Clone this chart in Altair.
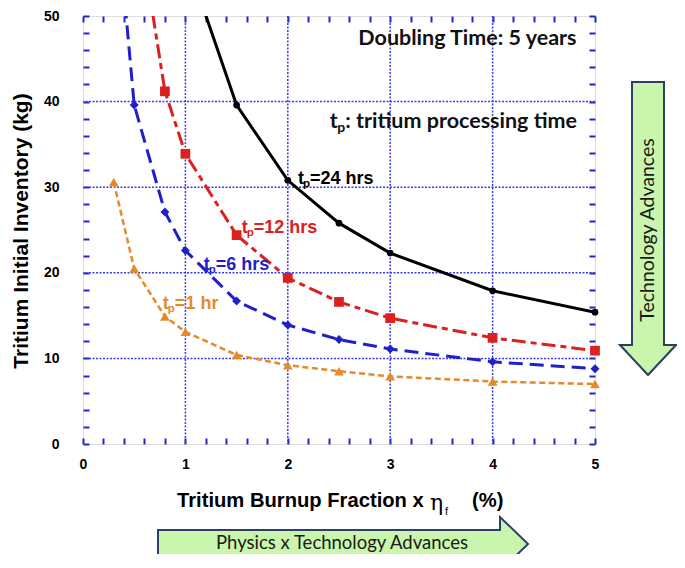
import altair as alt
import pandas as pd

# ---------------- data ----------------
x_1hr = [0.3, 0.5, 0.8, 1.0, 1.5, 2.0, 2.5, 3.0, 4.0, 5.0]
y_1hr = [30.6, 20.5, 14.9, 13.1, 10.4, 9.2, 8.5, 7.9, 7.3, 7.0]

x_6hr = [0.3, 0.5, 0.8, 1.0, 1.5, 2.0, 2.5, 3.0, 4.0, 5.0]
y_6hr = [66.0, 39.6, 27.1, 22.6, 16.7, 13.9, 12.2, 11.1, 9.6, 8.8]

x_12hr = [0.5, 0.8, 1.0, 1.5, 2.0, 2.5, 3.0, 4.0, 5.0]
y_12hr = [64.0, 41.2, 33.9, 24.4, 19.4, 16.6, 14.7, 12.4, 10.9]

x_24hr = [1.0, 1.5, 2.0, 2.5, 3.0, 4.0, 5.0]
y_24hr = [57.0, 39.6, 30.8, 25.8, 22.3, 17.9, 15.4]

grid_x = [1, 2, 3, 4]
grid_y = [10, 20, 30, 40]
x_tick_values = [i / 5 for i in range(26)]
y_tick_values = list(range(0, 52, 2))

label_x = [2.10, 1.55, 1.18, 0.78]
label_y = [30.9, 25.2, 20.9, 16.4]
label_rest = ["=24 hrs", "=12 hrs", "=6 hrs", "=1 hr"]

BLACK = "#000000"
RED = "#dc2020"
BLUE = "#1f1fcc"
ORANGE = "#e58a2b"
label_colors = [BLACK, RED, BLUE, ORANGE]

AXIS_BLUE = "#2323d6"
GRID_BLUE = "#3b3bee"
ARROW_FILL = "#c9f5ad"
ARROW_STROKE = "#2e3f66"

xs = alt.Scale(domain=[0, 5], nice=False, zero=False)
ys = alt.Scale(domain=[0, 50], nice=False, zero=False)

x_label_expr = "abs(datum.value - round(datum.value)) < 0.001 ? format(datum.value, 'd') : ''"
y_label_expr = "datum.value % 10 == 0 ? format(datum.value, 'd') : ''"

common_tick = dict(tickSize=6, tickWidth=2, tickColor=AXIS_BLUE, domain=False,
                   grid=False, title=None, offset=-6)

bottom_axis = alt.Axis(orient="bottom", values=x_tick_values, labelExpr=x_label_expr,
                       labelFont="Liberation Sans", labelFontSize=14, labelFontWeight="bold",
                       labelColor="#000000", labelPadding=13, labelFlush=False,
                       labelOverlap=False, **common_tick)
left_axis = alt.Axis(orient="left", values=y_tick_values, labelExpr=y_label_expr,
                     labelFont="Liberation Sans", labelFontSize=14, labelFontWeight="bold",
                     labelColor="#000000", labelPadding=24, labelFlush=False,
                     labelOverlap=False, **common_tick)
top_axis = alt.Axis(orient="top", values=x_tick_values, labels=False, **common_tick)
right_axis = alt.Axis(orient="right", values=y_tick_values, labels=False, **common_tick)

# ---------------- grid + mirrored axes ----------------
grid_v = alt.Chart(pd.DataFrame({"gx": grid_x})).mark_rule(
    color=GRID_BLUE, strokeDash=[2, 1.5], strokeWidth=1.5
).encode(x=alt.X("gx:Q", scale=xs, axis=top_axis))

grid_h = alt.Chart(pd.DataFrame({"gy": grid_y})).mark_rule(
    color=GRID_BLUE, strokeDash=[2, 1.5], strokeWidth=1.5
).encode(y=alt.Y("gy:Q", scale=ys, axis=right_axis))


def series(xv, yv, color, shape, size, width, dash=None, with_axes=False):
    df = pd.DataFrame({"x": xv, "y": yv})
    line_kw = dict(color=color, strokeWidth=width, clip=True)
    if dash is not None:
        line_kw["strokeDash"] = dash
    line = alt.Chart(df).mark_line(**line_kw).encode(
        x=alt.X("x:Q", scale=xs, axis=bottom_axis if with_axes else None),
        y=alt.Y("y:Q", scale=ys, axis=left_axis if with_axes else None),
    )
    pts = alt.Chart(df).transform_filter("datum.y <= 50").mark_point(
        shape=shape, size=size, filled=True, color=color, opacity=1
    ).encode(
        x=alt.X("x:Q", scale=xs, axis=None),
        y=alt.Y("y:Q", scale=ys, axis=None),
    )
    return [line, pts]


layers_series = []
layers_series += series(x_1hr, y_1hr, ORANGE, "triangle-up", 95, 2.5, dash=[6, 3.5])
layers_series += series(x_6hr, y_6hr, BLUE, "diamond", 80, 3, dash=[14, 7])
layers_series += series(x_12hr, y_12hr, RED, "square", 95, 3, dash=[14, 5, 6, 5])
layers_series += series(x_24hr, y_24hr, BLACK, "circle", 45, 3, with_axes=True)

# ---------------- curve labels (t with subscript p) ----------------
lbl_df = pd.DataFrame({"x": label_x, "y": label_y, "rest": label_rest,
                       "color": label_colors, "t": ["t"] * 4, "p": ["p"] * 4})
lbl_base = alt.Chart(lbl_df).encode(
    x=alt.X("x:Q", scale=xs, axis=None),
    y=alt.Y("y:Q", scale=ys, axis=None),
    color=alt.Color("color:N", scale=None),
)
lbl_t = lbl_base.mark_text(align="left", baseline="middle", font="Liberation Sans",
                           fontSize=18, fontWeight="bold").encode(text="t:N")
lbl_p = lbl_base.mark_text(align="left", baseline="middle", font="Liberation Sans",
                           fontSize=11.5, fontWeight="bold", dx=5, dy=5).encode(text="p:N")
lbl_r = lbl_base.mark_text(align="left", baseline="middle", font="Liberation Sans",
                           fontSize=18, fontWeight="bold", dx=12).encode(text="rest:N")

# ---------------- top right notes ----------------
note1 = alt.Chart(pd.DataFrame({"x": [4.82], "y": [47.3], "s": ["Doubling Time: 5 years"]})).mark_text(
    align="right", baseline="middle", font="Lato", fontSize=21.5, fontWeight="bold", color="#111111"
).encode(x=alt.X("x:Q", scale=xs, axis=None), y=alt.Y("y:Q", scale=ys, axis=None), text="s:N")

note2_df = pd.DataFrame({"x": [2.41], "y": [37.65], "t": ["t"], "p": ["p"],
                         "s": [": tritium processing time"]})
note2_base = alt.Chart(note2_df).encode(x=alt.X("x:Q", scale=xs, axis=None),
                                        y=alt.Y("y:Q", scale=ys, axis=None))
note2_t = note2_base.mark_text(align="left", baseline="middle", font="Lato", fontSize=21.5,
                               fontWeight="bold", color="#111111").encode(text="t:N")
note2_p = note2_base.mark_text(align="left", baseline="middle", font="Lato", fontSize=14,
                               fontWeight="bold", color="#111111", dx=7.5, dy=6).encode(text="p:N")
note2_s = note2_base.mark_text(align="left", baseline="middle", font="Lato", fontSize=21.5,
                               fontWeight="bold", color="#111111", dx=15.5).encode(text="s:N")

# ---------------- titles & arrows (pixel placed decorations) ----------------
one = alt.Data(values=[{}])


def ptext(txt, px, py, **kw):
    return alt.Chart(one).mark_text(text=txt, **kw).encode(x=alt.value(px), y=alt.value(py))


ytitle = ptext("Tritium Initial Inventory (kg)", -61, 215, angle=270, align="center",
               baseline="middle", font="Liberation Sans", fontSize=21, fontWeight="bold",
               color="#000000")
xt1 = ptext("Tritium Burnup Fraction x", 94, 485, align="left", baseline="middle",
            font="Liberation Sans", fontSize=20.2, fontWeight="bold", color="#000000")
xt2 = ptext("η", 347, 487, align="left", baseline="middle", font="DejaVu Serif",
            fontSize=22, color="#000000")
xt3 = ptext("f", 362, 496, align="left", baseline="middle", font="Liberation Sans",
            fontSize=11, color="#000000")
xt4 = ptext("(%)", 389, 485, align="left", baseline="middle", font="Liberation Sans",
            fontSize=20.2, fontWeight="bold", color="#000000")

arrow_right_path = "M0,-14L342,-14L342,-27L370,0L342,27L342,14L0,14Z"
arrow_down_path = "M-16,0L16,0L16,263L28,263L0,293L-28,263L-16,263Z"

arrow_h = alt.Chart(one).mark_point(
    shape=arrow_right_path, size=4, filled=True, fill=ARROW_FILL, stroke=ARROW_STROKE,
    strokeWidth=2, opacity=1
).encode(x=alt.value(75), y=alt.value(528))
arrow_v = alt.Chart(one).mark_point(
    shape=arrow_down_path, size=4, filled=True, fill=ARROW_FILL, stroke=ARROW_STROKE,
    strokeWidth=2, opacity=1
).encode(x=alt.value(565), y=alt.value(66))

arrow_h_text = ptext("Physics x Technology Advances", 259, 527, align="center",
                     baseline="middle", font="Lato", fontSize=18.5, color="#1a1a1a")
arrow_v_text = ptext("Technology Advances", 565, 214, angle=270, align="center",
                     baseline="middle", font="Lato", fontSize=19.5, color="#1a1a1a")

chart = alt.layer(
    grid_v, grid_h, *layers_series,
    lbl_t, lbl_p, lbl_r, note1, note2_t, note2_p, note2_s,
    ytitle, xt1, xt2, xt3, xt4,
    arrow_h, arrow_v, arrow_h_text, arrow_v_text,
).resolve_axis(x="independent", y="independent").properties(
    width=512, height=428,
    autosize=alt.AutoSizeParams(type="none"),
    padding={"left": 75, "top": 8, "right": 82, "bottom": 110},
).configure_view(stroke=AXIS_BLUE, strokeWidth=2.5).configure(background="white")

chart.save("out.html", embed_options={"renderer": "svg", "actions": False})
